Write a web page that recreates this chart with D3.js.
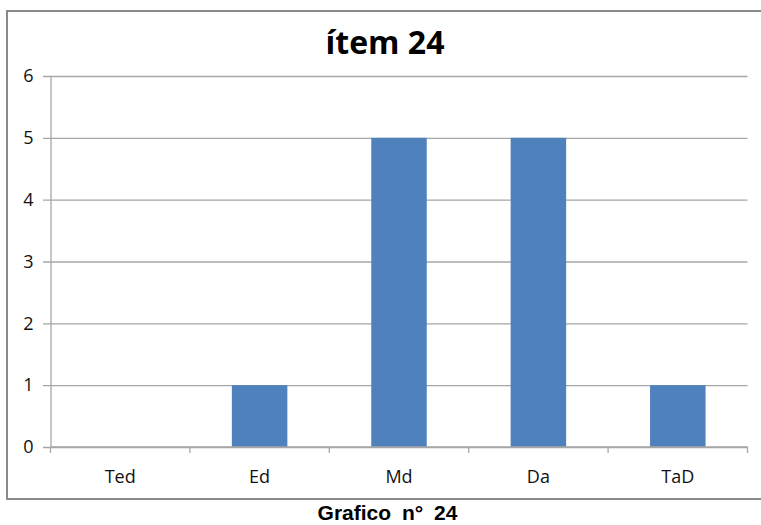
<!DOCTYPE html>
<html><head><meta charset="utf-8">
<script src="https://cdn.jsdelivr.net/npm/d3@7"></script>
<style>body{margin:0;background:#fff}svg{display:block}</style>
</head><body>
<script>
const categories = ["Ted", "Ed", "Md", "Da", "TaD"];
const values = [0, 1, 5, 5, 1];
const yTicks = [0, 1, 2, 3, 4, 5, 6];
const title = "ítem 24";
const caption = "Grafico n° 24";

(function () {
const W = 761, H = 525;
const svg = d3.select("body").append("svg").attr("width", W).attr("height", H);
svg.append("rect").attr("width", W).attr("height", H).attr("fill", "#fff");

// chart border
svg.append("rect").attr("x", 7).attr("y", 11).attr("width", 770).attr("height", 488)
  .attr("fill", "none").attr("stroke", "#8a8a8a").attr("stroke-width", 2);

const pL = 50.5, pR = 747.5, pT = 76, pB = 447;
const x = d3.scaleBand().domain(categories).range([pL, pR]).padding(0);
const y = d3.scaleLinear().domain([0, 6]).range([pB, pT]);
const gridColor = "#a6a6a6";

// gridlines
const gy = svg.append("g").attr("transform", `translate(${pR},0)`)
  .call(d3.axisLeft(y).tickValues(yTicks).tickSize(pR - 43).tickFormat(""));
gy.select(".domain").remove();
gy.selectAll(".tick line").attr("stroke", gridColor).attr("stroke-width", 1.3);

// y axis labels + axis line
const gl = svg.append("g").attr("transform", `translate(${pL},0)`)
  .call(d3.axisLeft(y).tickValues(yTicks).tickFormat(d3.format("d")).tickSize(0).tickPadding(17));
gl.select(".domain").attr("stroke", gridColor).attr("stroke-width", 1.3);
gl.selectAll(".tick text").attr("font-family", "Open Sans").attr("font-size", 18).attr("fill", "#111");

// bars
const bw = 55.5;
svg.append("g").selectAll("rect").data(values).join("rect")
  .attr("x", (d, i) => x(categories[i]) + x.bandwidth() / 2 - bw / 2)
  .attr("width", bw)
  .attr("y", d => y(d))
  .attr("height", d => pB - y(d))
  .attr("fill", "#4f81bd");

// x axis
const boundaries = categories.map(c => x(c)).concat([pR]);
svg.append("line").attr("x1", pL).attr("x2", pR).attr("y1", pB).attr("y2", pB)
  .attr("stroke", gridColor).attr("stroke-width", 1.3);
svg.append("g").selectAll("line").data(boundaries).join("line")
  .attr("x1", d => d).attr("x2", d => d).attr("y1", pB).attr("y2", pB + 6)
  .attr("stroke", gridColor).attr("stroke-width", 1.3);
svg.append("g").selectAll("text").data(categories).join("text")
  .attr("x", d => x(d) + x.bandwidth() / 2).attr("y", 483)
  .attr("text-anchor", "middle").attr("font-family", "Open Sans").attr("font-size", 18)
  .attr("fill", "#111").text(d => d);

// title
svg.append("text").attr("x", 385).attr("y", 54).attr("text-anchor", "middle")
  .attr("font-family", "Open Sans").attr("font-weight", "bold").attr("font-size", 32)
  .attr("fill", "#000").text(title);

// caption
svg.append("text").attr("x", 387.5).attr("y", 520).attr("text-anchor", "middle")
  .attr("font-family", "Liberation Sans, Arial").attr("font-weight", "bold").attr("font-size", 21)
  .attr("word-spacing", 5).attr("fill", "#000").text(caption);
})();
</script>
</body></html>
